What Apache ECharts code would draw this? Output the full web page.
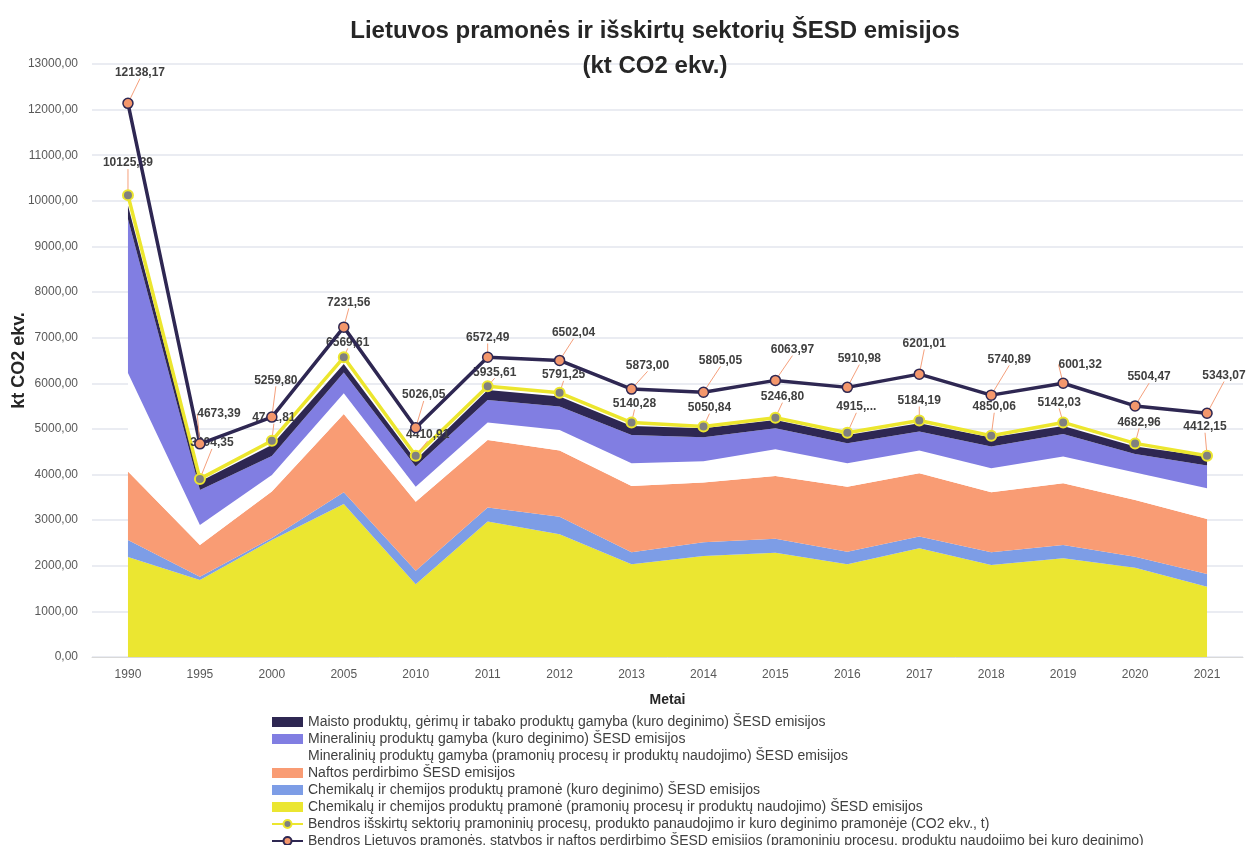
<!DOCTYPE html>
<html>
<head>
<meta charset="utf-8">
<script src="https://cdn.jsdelivr.net/npm/echarts@6/dist/echarts.min.js"></script>
<style>html,body{margin:0;padding:0;background:#fff}#c{width:1250px;height:845px}</style>
</head>
<body>
<div id="c"></div>
<script>
const years = ['1990','1995','2000','2005','2010','2011','2012','2013','2014','2015','2016','2017','2018','2019','2020','2021'];
const yTicks = [0, 13000, 1000];
// stacked sectors (kt CO2 ekv.)
const chemProcess = [2193, 1689, 2566, 3355, 1594, 2968, 2690, 2032, 2215, 2288, 2032, 2383, 2018, 2163, 1959, 1542];
const chemFuel = [373, 72, 44, 256, 299, 307, 387, 263, 300, 307, 278, 256, 277, 293, 241, 278];
const oilRefining = [1498, 695, 1016, 1718, 1513, 1484, 1448, 1455, 1308, 1374, 1425, 1389, 1316, 1352, 1243, 1206];
const mineralProcess = [2164, 439, 365, 453, 329, 380, 453, 497, 468, 585, 512, 497, 526, 585, 599, 673];
const mineralFuel = [3372, 767, 417, 453, 439, 497, 512, 621, 526, 461, 439, 417, 476, 497, 410, 497];
const foodFuel = [300, 183, 241, 190, 146, 219, 219, 198, 198, 182, 182, 182, 197, 176, 161, 197];
// totals
const sectorsTotal = [10125.39, 3904.35, 4741.81, 6569.61, 4410.91, 5935.61, 5791.25, 5140.28, 5050.84, 5246.80, 4915.00, 5184.19, 4850.06, 5142.03, 4682.96, 4412.15];
const sectorsTotalLabels = ['10125,39','3904,35','4741,81','6569,61','4410,91','5935,61','5791,25','5140,28','5050,84','5246,80','4915,...','5184,19','4850,06','5142,03','4682,96','4412,15'];
const industryTotal = [12138.17, 4673.39, 5259.80, 7231.56, 5026.05, 6572.49, 6502.04, 5873.00, 5805.05, 6063.97, 5910.98, 6201.01, 5740.89, 6001.32, 5504.47, 5343.07];

const names = {
  food: 'Maisto produktų, gėrimų ir tabako produktų gamyba (kuro deginimo) ŠESD emisijos',
  minFuel: 'Mineralinių produktų gamyba (kuro deginimo) ŠESD emisijos',
  minProc: 'Mineralinių produktų gamyba (pramonių procesų ir produktų naudojimo) ŠESD emisijos',
  oil: 'Naftos perdirbimo ŠESD emisijos',
  chemFuel: 'Chemikalų ir chemijos produktų pramonė (kuro deginimo) ŠESD emisijos',
  chemProc: 'Chemikalų ir chemijos produktų pramonė (pramonių procesų ir produktų naudojimo) ŠESD emisijos',
  secTot: 'Bendros išskirtų sektorių pramoninių procesų, produkto panaudojimo ir kuro deginimo pramonėje (CO2 ekv., t)',
  indTot: 'Bendros Lietuvos pramonės, statybos ir naftos perdirbimo ŠESD emisijos (pramoninių procesų, produktų naudojimo bei kuro deginimo)'
};

// label displacement (dx, dy) from the marker
const indLabelShift = [[12,-27],[19,-26],[4,-33],[5,-21],[8,-29],[0,-16],[14,-24],[16,-20],[17,-28],[17,-27],[12,-25],[5,-27],[18,-32],[17,-15],[14,-25],[17,-34]];
const secLabelShift = [[0,-28],[12,-32],[2,-19],[4,-11],[12,-17],[7,-10],[4,-14],[3,-15],[6,-15],[7,-17],[9,-22],[0,-16],[3,-25],[-4,-16],[4,-17],[-2,-25]];

const fmt = v => v.toFixed(2).replace('.', ',');
const sans = '"Liberation Sans", Arial, sans-serif';

function area(name, data, color) {
  return {
    name, type: 'line', stack: 'total', data, symbol: 'none', silent: true,
    lineStyle: { width: 0, color }, itemStyle: { color },
    areaStyle: { color, opacity: 1 }, z: 2
  };
}
const labelBase = { show: true, position: 'top', distance: 0, fontFamily: sans, fontWeight: 'bold', fontSize: 12, color: '#404040' };
const guide = { show: true, lineStyle: { color: '#f5a07c', width: 1 } };

const chart = echarts.init(document.getElementById('c'), null, { renderer: 'canvas' });
chart.setOption({
  animation: false,
  backgroundColor: '#ffffff',
  title: {
    text: 'Lietuvos pramonės ir išskirtų sektorių ŠESD emisijos\n(kt CO2 ekv.)',
    left: 650, top: 9, textAlign: 'center',
    textStyle: { fontFamily: sans, fontSize: 24, fontWeight: 'bold', color: '#262626', lineHeight: 35 }
  },
  grid: { left: 92, right: 7, top: 64, bottom: 188, containLabel: false, outerBoundsMode: 'none' },
  legend: {
    orient: 'vertical', left: 266, top: 710, height: 200, itemGap: 3, itemWidth: 31, itemHeight: 10,
    textStyle: { fontFamily: sans, fontSize: 14, color: '#404040' },
    data: [
      { name: names.food, icon: 'rect' },
      { name: names.minFuel, icon: 'rect' },
      { name: names.minProc, icon: 'rect' },
      { name: names.oil, icon: 'rect' },
      { name: names.chemFuel, icon: 'rect' },
      { name: names.chemProc, icon: 'rect' },
      names.secTot,
      names.indTot
    ]
  },
  xAxis: {
    type: 'category', data: years, boundaryGap: true,
    name: 'Metai', nameLocation: 'middle', nameGap: 36, nameMoveOverlap: false,
    nameTextStyle: { fontFamily: sans, fontWeight: 'bold', fontSize: 14, color: '#262626' },
    axisLine: { lineStyle: { color: '#d9d9d9' } }, axisTick: { show: false },
    axisLabel: { fontFamily: sans, fontSize: 12, color: '#595959', margin: 12 }
  },
  yAxis: {
    type: 'value', min: yTicks[0], max: yTicks[1], interval: yTicks[2],
    name: 'kt CO2 ekv.', nameLocation: 'middle', nameGap: 64, nameRotate: 90, nameMoveOverlap: false,
    nameTextStyle: { fontFamily: sans, fontWeight: 'bold', fontSize: 18, color: '#262626' },
    axisLine: { show: false }, axisTick: { show: false },
    axisLabel: { fontFamily: sans, fontSize: 12, color: '#595959', margin: 14, formatter: v => fmt(v) },
    splitLine: { lineStyle: { color: '#e3e6ee', width: 1.5 } }
  },
  series: [
    area(names.chemProc, chemProcess, '#ebe631'),
    area(names.chemFuel, chemFuel, '#7d9de6'),
    area(names.oil, oilRefining, '#f99c74'),
    area(names.minProc, mineralProcess, '#ffffff'),
    area(names.minFuel, mineralFuel, '#817ee2'),
    area(names.food, foodFuel, '#2e2752'),
    {
      name: names.secTot, type: 'line', data: sectorsTotal, z: 5,
      symbol: 'circle', symbolSize: 10,
      lineStyle: { color: '#ece62e', width: 3.5 },
      itemStyle: { color: '#808080', borderColor: '#ece62e', borderWidth: 2 },
      label: Object.assign({}, labelBase, { formatter: p => sectorsTotalLabels[p.dataIndex] }),
      labelLine: guide,
      labelLayout: p => ({ dx: secLabelShift[p.dataIndex][0], dy: secLabelShift[p.dataIndex][1] + 8 })
    },
    {
      name: names.indTot, type: 'line', data: industryTotal, z: 6,
      symbol: 'circle', symbolSize: 10,
      lineStyle: { color: '#2e2752', width: 3.5 },
      itemStyle: { color: '#f4976c', borderColor: '#2e2752', borderWidth: 1.5 },
      label: Object.assign({}, labelBase, { formatter: p => fmt(p.value) }),
      labelLine: guide,
      labelLayout: p => ({ dx: indLabelShift[p.dataIndex][0], dy: indLabelShift[p.dataIndex][1] + 8 })
    }
  ]
});
</script>
</body>
</html>
